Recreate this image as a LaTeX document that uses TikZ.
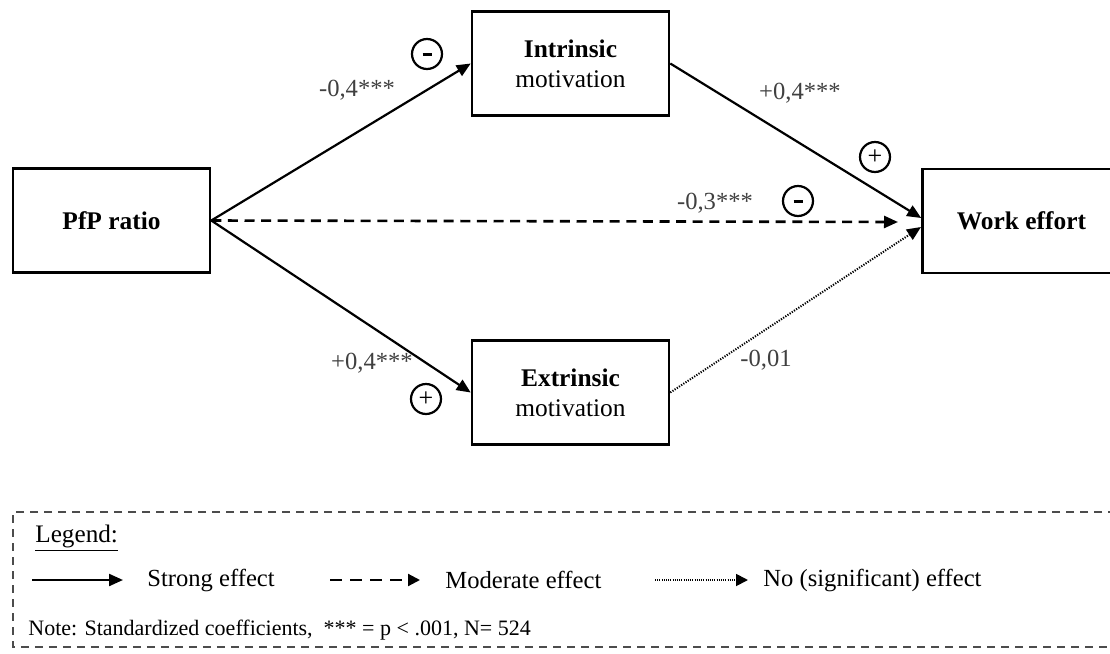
\documentclass[tikz,border=0pt]{standalone}
\usepackage{fontspec}
\setmainfont{Liberation Serif}
\usetikzlibrary{arrows.meta,calc}

\begin{document}
\begin{tikzpicture}[x=0.5pt,y=-0.5pt,
	box/.style={draw,line width=1.3pt,minimum width=98.5pt,minimum height=52pt,align=center,font=\fontsize{12.7}{15}\selectfont},
	coef/.style={inner sep=0pt,text=black!75,font=\fontsize{12.3}{14}\selectfont},
	sign/.style={circle,draw,line width=1.1pt,minimum size=15pt,inner sep=0pt,font=\fontsize{13}{13}\selectfont},
	strong/.style={line width=1.1pt,-{Triangle[length=7pt,width=6pt]}},
	moderate/.style={line width=1.3pt,dash pattern=on 5pt off 3.3pt,-{Triangle[length=7pt,width=6pt]}},
	nosig/.style={line width=1pt,dash pattern=on 0.6pt off 0.7pt,-{Triangle[length=7pt,width=6pt]}},
	legtext/.style={inner sep=0pt,anchor=west,font=\fontsize{12.3}{14}\selectfont}]
			%\draw[help lines] (0,0) grid[step=50] (1110,654);
			\useasboundingbox (0,0) rectangle (1110,654);
			\clip (0,0) rectangle (1110,654);
			%BOXES
			\node[box] (pfp) at (111.5,220.5) {\textbf{PfP ratio}};
			\node[box] (intr) at (570.5,63.5) {\textbf{Intrinsic}\\motivation};
			\node[box] (extr) at (570.5,392.5) {\textbf{Extrinsic}\\motivation};
			\node[box,minimum width=99pt] (work) at (1021.5,221) {\textbf{Work effort}};
			%ENDS NEAR WORK EFFORT
			\coordinate (wtop) at ($(work.west)+(0,-3)$);
			\coordinate (wdash) at (898,222);
			\coordinate (wdot) at (921,227);
			%PATHS
			\draw[strong] (pfp.east) -- (intr.west);
			\draw[strong] (pfp.east) -- (extr.west);
			\draw[strong] (intr.east) -- (wtop);
			\draw[moderate] (pfp.east) -- (wdash);
			\draw[nosig] (extr.east) -- (wdot);
			%COEFFICIENTS
			\node[coef] (c1) at (357,90) {-0,4***};
			\node[sign] (s1) at (427,54) {\rule{4.5pt}{1.5pt}};
			\node[coef] (c2) at (800,93) {+0,4***};
			\node[sign] (s2) at (875,157) {+};
			\node[coef] (c3) at (715,203) {-0,3***};
			\node[sign] (s3) at (798,201) {\rule{4.5pt}{1.5pt}};
			\node[coef] (c4) at (372,363) {+0,4***};
			\node[sign] (s4) at (426,399) {+};
			\node[coef] (c5) at (766,360) {-0,01};
			%LEGEND
			\draw[black!70,line width=0.8pt,dash pattern=on 4pt off 3pt] (1130,512) -- (13,512) -- (13,647) -- (1130,647);
			\node[legtext,font=\fontsize{12.6}{14}\selectfont] (leg) at (35,538) {\underline{Legend:}};
			\coordinate (la) at (32,580);
			\coordinate (lb) at (123,580);
			\draw[strong] (la) -- (lb);
			\node[legtext] (lt1) at (147,580) {Strong effect};
			\coordinate (lc) at (330,580);
			\coordinate (ld) at (420,580);
			\draw[line width=1.1pt,dash pattern=on 6pt off 4pt,-{Triangle[length=6pt,width=6pt]}] (lc) -- (ld);
			\node[legtext] (lt2) at (445,580) {Moderate effect};
			\coordinate (le) at (655,580);
			\coordinate (lf) at (748,580);
			\draw[line width=0.9pt,dash pattern=on 0.5pt off 0.6pt,-{Triangle[length=6pt,width=6pt]}] (le) -- (lf);
			\node[legtext] (lt3) at (763,580) {No (significant) effect};
			\node[legtext,font=\fontsize{11}{13}\selectfont] (note) at (28,630) {Note: Standardized coefficients, \ *** = p < .001, N= 524};
\end{tikzpicture}
\end{document}
